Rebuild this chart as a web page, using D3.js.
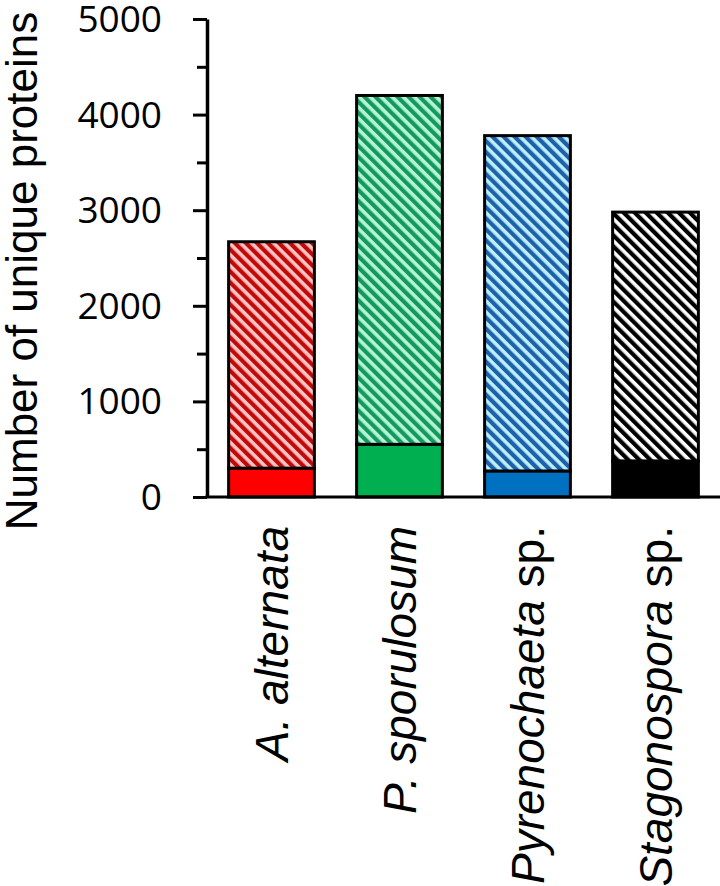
<!DOCTYPE html>
<html>
<head>
<meta charset="utf-8">
<script src="https://cdn.jsdelivr.net/npm/d3@7"></script>
<style>
  body { margin: 0; background: #fff; }
  svg { display: block; }
</style>
</head>
<body>
<svg id="chart" width="720" height="886"></svg>
<script>
// species on the x axis (italic genus/species part + plain suffix)
var categories = ["A. alternata", "P. sporulosum", "Pyrenochaeta sp.", "Stagonospora sp."];
var labelItalic = ["A. alternata", "P. sporulosum", "Pyrenochaeta", "Stagonospora"];
var labelPlain = ["", "", " sp.", " sp."];

// unique proteins: solid lower part and total bar height
var solidValues = [300, 550, 270, 375];
var totalValues = [2670, 4200, 3780, 2980];

var majorTicks = [0, 1000, 2000, 3000, 4000, 5000];
var minorTicks = [500, 1500, 2500, 3500, 4500];

var solidColors = ["#ff0000", "#00b050", "#0070c0", "#000000"];
var stripeColors = ["#c00a0a", "#15995a", "#1d62a8", "#000000"];
var stripeBack = ["#ffc4c4", "#b4f5da", "#bdefff", "#ffffff"];

var svg = d3.select("#chart");

var x = d3.scaleBand()
    .domain(categories)
    .range([207.5, 719.5])
    .paddingInner(0.33)
    .paddingOuter(0.165);

var y = d3.scaleLinear()
    .domain([0, 5000])
    .range([497, 19]);

// hatch patterns, "\" stripes
var defs = svg.append("defs");
categories.forEach(function(c, i) {
    var p = defs.append("pattern")
        .attr("id", "hatch" + i)
        .attr("patternUnits", "userSpaceOnUse")
        .attr("width", 7.8)
        .attr("height", 7.8)
        .attr("patternTransform", "rotate(-45)");
    p.append("rect")
        .attr("width", 7.8).attr("height", 7.8)
        .attr("fill", stripeBack[i]);
    p.append("rect")
        .attr("width", 4.2).attr("height", 7.8)
        .attr("fill", stripeColors[i]);
});

// hatched upper segments
svg.append("g").selectAll("rect")
    .data(categories)
    .join("rect")
    .attr("x", function(d) { return x(d); })
    .attr("width", x.bandwidth())
    .attr("y", function(d, i) { return y(totalValues[i]); })
    .attr("height", function(d, i) { return y(solidValues[i]) - y(totalValues[i]); })
    .attr("fill", function(d, i) { return "url(#hatch" + i + ")"; })
    .attr("stroke", "#000")
    .attr("stroke-width", 3);

// solid lower segments
svg.append("g").selectAll("rect")
    .data(categories)
    .join("rect")
    .attr("x", function(d) { return x(d); })
    .attr("width", x.bandwidth())
    .attr("y", function(d, i) { return y(solidValues[i]); })
    .attr("height", function(d, i) { return y(0) - y(solidValues[i]); })
    .attr("fill", function(d, i) { return solidColors[i]; })
    .attr("stroke", "#000")
    .attr("stroke-width", 3);

// y axis: minor ticks first, then major ticks with labels
var minorAxis = svg.append("g")
    .attr("transform", "translate(207,0)")
    .call(d3.axisLeft(y).tickValues(minorTicks).tickSize(10).tickSizeOuter(0).tickFormat(""));
minorAxis.select(".domain").remove();
minorAxis.selectAll("line").attr("stroke", "#000").attr("stroke-width", 3);

var yAxis = svg.append("g")
    .attr("transform", "translate(207,0)")
    .call(d3.axisLeft(y).tickValues(majorTicks).tickSize(14).tickSizeOuter(0)
        .tickPadding(31).tickFormat(d3.format("d")));
yAxis.select(".domain").attr("stroke", "#000").attr("stroke-width", 3.5);
yAxis.selectAll("line").attr("stroke", "#000").attr("stroke-width", 3);
yAxis.selectAll("text")
    .attr("font-family", "'Open Sans', sans-serif")
    .attr("font-size", 37)
    .attr("dy", "0.34em")
    .attr("fill", "#000");

// x axis baseline
var xAxis = svg.append("g")
    .attr("transform", "translate(0," + y(0) + ")")
    .call(d3.axisBottom(x).tickSize(0).tickSizeOuter(0).tickFormat(""));
xAxis.select(".domain")
    .attr("d", "M205.5,0H720")
    .attr("stroke", "#000")
    .attr("stroke-width", 3);

// category labels, rotated
var labels = svg.append("g").selectAll("text")
    .data(categories)
    .join("text")
    .attr("transform", function(d) {
        return "translate(" + (x(d) + x.bandwidth() / 2) + ",526) rotate(-90)";
    })
    .attr("text-anchor", "end")
    .attr("dy", "0.36em")
    .attr("font-family", "'Liberation Sans', Arial, sans-serif")
    .attr("font-size", 46)
    .attr("fill", "#000");
labels.append("tspan")
    .attr("font-style", "italic")
    .text(function(d, i) { return labelItalic[i]; });
labels.append("tspan")
    .text(function(d, i) { return labelPlain[i]; });

// y axis title
svg.append("text")
    .attr("transform", "translate(37,271) rotate(-90)")
    .attr("text-anchor", "middle")
    .attr("font-family", "'Liberation Sans', Arial, sans-serif")
    .attr("font-size", 44)
    .attr("fill", "#000")
    .text("Number of unique proteins");
</script>
</body>
</html>
